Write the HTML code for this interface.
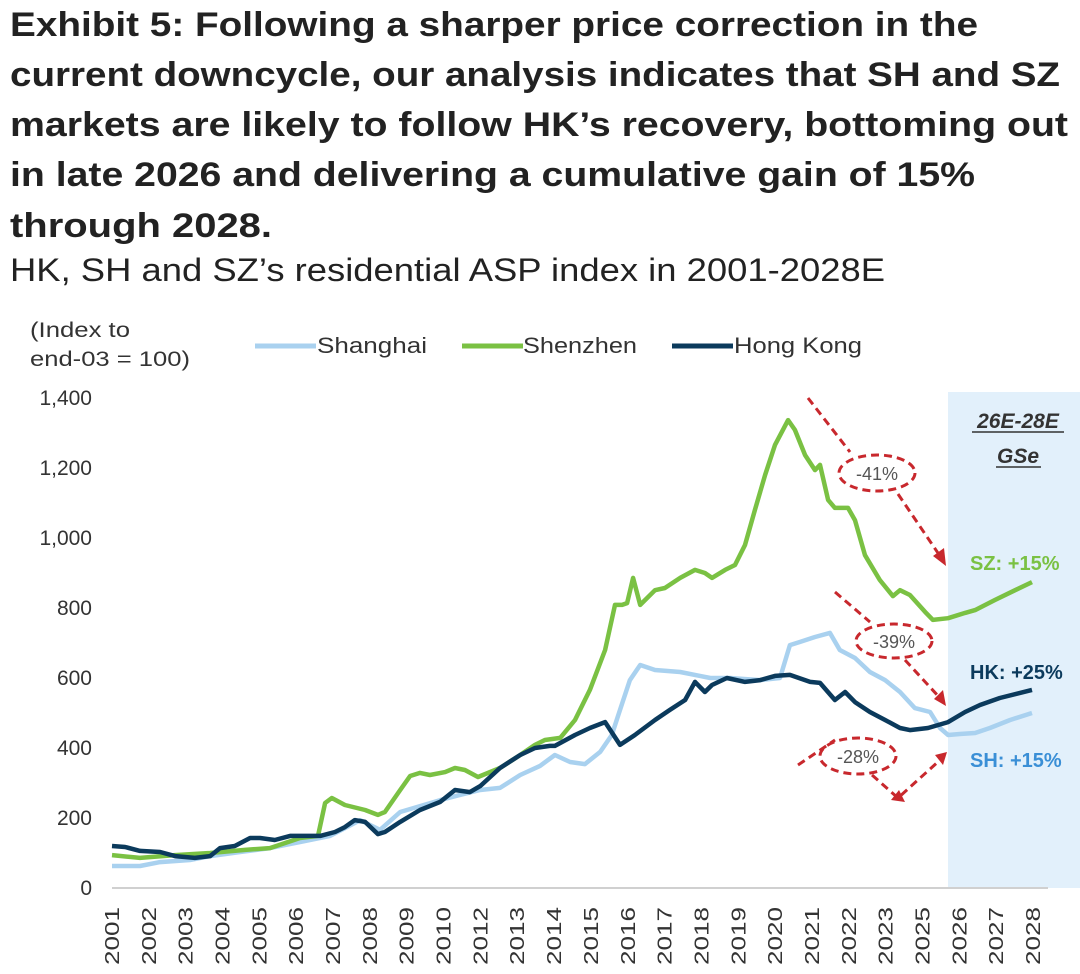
<!DOCTYPE html>
<html><head><meta charset="utf-8"><style>
html,body{margin:0;padding:0;background:#fff;}
svg{display:block;}
text{font-family:"Liberation Sans",sans-serif;}
</style></head><body>
<svg id="chart" width="1080" height="974" viewBox="0 0 1080 974">
<g font-weight="bold" font-size="34" fill="#222">
<text x="10" y="36" textLength="968" lengthAdjust="spacingAndGlyphs">Exhibit 5: Following a sharper price correction in the</text>
<text x="10" y="86" textLength="1050" lengthAdjust="spacingAndGlyphs">current downcycle, our analysis indicates that SH and SZ</text>
<text x="10" y="136" textLength="1058" lengthAdjust="spacingAndGlyphs">markets are likely to follow HK’s recovery, bottoming out</text>
<text x="10" y="186" textLength="965" lengthAdjust="spacingAndGlyphs">in late 2026 and delivering a cumulative gain of 15%</text>
<text x="10" y="237" textLength="262" lengthAdjust="spacingAndGlyphs">through 2028.</text>
</g>
<text x="10" y="281" font-size="32" fill="#222" textLength="875" lengthAdjust="spacingAndGlyphs">HK, SH and SZ’s residential ASP index in 2001-2028E</text>
<rect x="948" y="392" width="132" height="496" fill="#e2f0fb"/>
<g font-size="21" fill="#333">
<text x="30" y="337" textLength="100" lengthAdjust="spacingAndGlyphs">(Index to</text>
<text x="30" y="366" textLength="160" lengthAdjust="spacingAndGlyphs">end-03 = 100)</text>
</g>
<g font-size="22" fill="#333">
<g><line x1="255" y1="346" x2="316" y2="346" stroke="#a9d1ef" stroke-width="5"/><text x="317" y="353" textLength="110" lengthAdjust="spacingAndGlyphs">Shanghai</text></g>
<g><line x1="462" y1="346" x2="523" y2="346" stroke="#7ac143" stroke-width="5"/><text x="523" y="353" textLength="114" lengthAdjust="spacingAndGlyphs">Shenzhen</text></g>
<g><line x1="672" y1="346" x2="733" y2="346" stroke="#0b3a5c" stroke-width="5"/><text x="734" y="353" textLength="128" lengthAdjust="spacingAndGlyphs">Hong Kong</text></g>
</g>
<g id="yaxis"></g>
<g id="xaxis"></g>
<line x1="112" y1="888" x2="1048" y2="888" stroke="#d0d0d0" stroke-width="2"/>
<g id="series"></g>
<g fill="none" stroke="#c8282d" stroke-width="3" stroke-dasharray="8,5">
<path d="M808 398 L850 452"/><ellipse cx="877" cy="473" rx="38" ry="18"/><path d="M898 494 L940 556"/>
<path d="M835 592 L870 622"/><ellipse cx="894" cy="641" rx="38" ry="17"/><path d="M905 660 L940 698"/>
<path d="M798 765 L835 740"/><ellipse cx="858" cy="756" rx="38" ry="18"/><path d="M872 775 L898 798 L940 760"/>
</g>
<g fill="#c8282d">
<polygon points="946,566 933,556 944,548"/><polygon points="946,706 934,699 943,690"/>
<polygon points="905,802 891,800 899,790"/><polygon points="947,752 935,755 943,765"/>
</g>
<g font-size="18" fill="#555">
<text x="877" y="480" text-anchor="middle">-41%</text>
<text x="894" y="648" text-anchor="middle">-39%</text>
<text x="858" y="763" text-anchor="middle">-28%</text>
</g>
<g font-size="21" font-weight="bold" font-style="italic" fill="#333" text-anchor="middle">
<text x="1018" y="428">26E-28E</text><text x="1018" y="463">GSe</text>
<line x1="972" y1="432" x2="1064" y2="432" stroke="#333" stroke-width="1.5"/>
<line x1="996" y1="467" x2="1041" y2="467" stroke="#333" stroke-width="1.5"/>
</g>
<g font-size="20" font-weight="bold">
<text x="970" y="570" fill="#7ac143">SZ: +15%</text>
<text x="970" y="679" fill="#0b3a5c">HK: +25%</text>
<text x="970" y="767" fill="#3a8fd6">SH: +15%</text>
</g>
</svg>
<script>
const yTicks=[0,200,400,600,800,1000,1200,1400];
const xLabels=["2001","2002","2003","2004","2005","2006","2007","2008","2009","2010","2012","2013","2014","2015","2016","2017","2018","2019","2020","2021","2022","2023","2025","2026","2027","2028"];
const szT=[0,0.79,1.78,2.77,3.76,4.46,5.31,5.82,6.02,6.21,6.58,7.15,7.51,7.71,8.14,8.42,8.7,8.98,9.41,9.69,9.97,10.34,10.96,11.53,11.95,12.23,12.66,13.08,13.5,13.93,14.21,14.41,14.55,14.72,14.92,15.34,15.62,16.05,16.47,16.75,16.95,17.32,17.6,17.88,18.16,18.45,18.73,19.1,19.29,19.58,19.86,20,20.23,20.42,20.79,20.99,21.27,21.69,22.06,22.26,22.54,22.97,23.19,23.62,24.1,24.38,24.94,25.51,25.99];
const szV=[94,86,94,100,109,114,143,149,243,257,237,223,209,217,280,320,329,323,331,343,337,317,343,380,409,423,429,480,566,680,809,809,814,886,809,851,857,886,909,900,886,909,923,980,1080,1180,1266,1337,1309,1237,1194,1209,1109,1086,1086,1051,951,880,834,851,837,789,766,771,786,794,823,851,874];
const hkT=[0,0.37,0.79,1.36,1.78,2.34,2.77,3.05,3.47,3.9,4.18,4.6,5.03,5.88,6.3,6.58,6.86,7.15,7.51,7.71,8.14,8.7,9.27,9.69,10.11,10.4,10.96,11.53,11.95,12.37,12.51,13.08,13.5,13.93,14.35,14.77,15.34,15.76,16.19,16.47,16.75,16.95,17.37,17.88,18.31,18.73,19.15,19.72,20,20.42,20.71,20.99,21.41,21.84,22.26,22.54,23.05,23.62,24.1,24.52,25.08,25.99];
const hkV=[120,117,106,103,91,86,91,114,120,143,143,137,149,149,160,174,194,189,154,160,189,223,246,280,274,291,343,380,400,406,406,437,457,474,409,437,480,509,537,589,560,580,600,589,594,606,609,589,586,537,560,531,503,480,457,451,457,474,503,523,543,566];
const shT=[0,0.79,1.36,2.2,2.77,3.62,4.46,5.31,6.16,6.58,7.01,7.57,8.14,8.7,9.27,9.83,10.4,10.96,11.53,12.09,12.51,12.94,13.36,13.79,14.12,14.35,14.63,14.92,15.34,16.05,16.61,16.9,17.46,18.31,18.87,19.15,19.43,19.86,20.28,20.56,20.99,21.41,21.84,22.26,22.68,23.11,23.39,23.62,23.95,24.38,24.8,25.37,25.99];
const shV=[63,63,74,80,91,103,114,131,149,171,194,166,217,234,251,266,280,286,323,349,380,360,354,389,437,509,594,637,623,617,606,600,600,594,600,694,703,717,729,680,657,617,594,560,514,503,457,437,440,443,457,480,500];
const X0=112,XS=35.4,XL=36.84,Y0=888,YS=0.35;
const xs=t=>X0+t*XS, ys=v=>Y0-v*YS, xl=i=>X0+i*XL;
const NS="http://www.w3.org/2000/svg";
const ya=document.getElementById('yaxis');
yTicks.forEach(v=>{const t=document.createElementNS(NS,'text');
t.setAttribute('x',92);t.setAttribute('y',ys(v)+7);t.setAttribute('text-anchor','end');t.setAttribute('font-size','21');t.setAttribute('fill','#333');


t.textContent=v.toLocaleString('en-US');ya.appendChild(t);});
const xa=document.getElementById('xaxis');
xLabels.forEach((l,i)=>{const t=document.createElementNS(NS,'text');
const x=xl(i)+7;t.setAttribute('transform',`translate(${x},965) rotate(-90)`);t.setAttribute('font-size','20');t.setAttribute('fill','#333');
t.setAttribute('textLength','58');t.setAttribute('lengthAdjust','spacingAndGlyphs');


t.textContent=l;xa.appendChild(t);});
const sg=document.getElementById('series');
function line(T,V,color,name){const p=document.createElementNS(NS,'path');
p.setAttribute('d',T.map((t,i)=>(i?'L':'M')+xs(t).toFixed(1)+' '+ys(V[i]).toFixed(1)).join(' '));
p.setAttribute('fill','none');p.setAttribute('stroke',color);p.setAttribute('stroke-width','4.5');p.setAttribute('stroke-linejoin','round');


sg.appendChild(p);}
line(shT,shV,'#a9d1ef','shanghai-line');
line(szT,szV,'#7ac143','shenzhen-line');
line(hkT,hkV,'#0b3a5c','hongkong-line');
</script>
</body></html>
